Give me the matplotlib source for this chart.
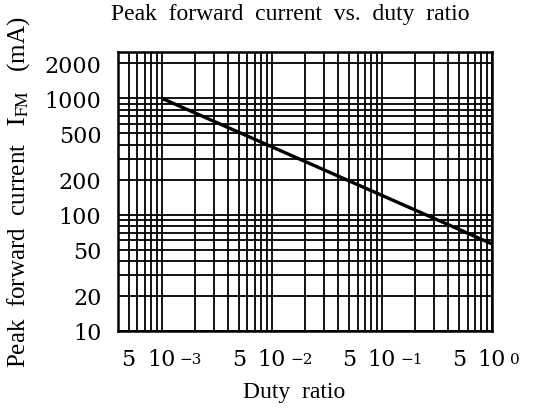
import numpy as np
import matplotlib
matplotlib.use("Agg")
import matplotlib.pyplot as plt
from matplotlib.ticker import NullFormatter, LogLocator

# curve (straight line on log-log)
duty = [1e-3, 1.0]
ifm = [1000, 56]

xtick_pos = [5e-4, 1e-3, 5e-3, 1e-2, 5e-2, 1e-1, 5e-1, 1.0]
xtick_lab = ["5", "10", "5", "10", "5", "10", "5", "10"]
xexp_pos = [1e-3, 1e-2, 1e-1, 1.0]
xexp_lab = ["\u22123", "\u22122", "\u22121", "0"]
ytick_pos = [10, 20, 50, 100, 200, 500, 1000, 2000]
ytick_lab = ["10", "20", "50", "100", "200", "500", "1000", "2000"]

plt.rcParams['mathtext.fontset'] = 'stix'
serif = "Liberation Serif"
tickfont = "DejaVu Serif"

fig = plt.figure(figsize=(5.41, 4.10), dpi=100)
ax = fig.add_axes([118/541, 1 - 332/410, 374/541, 279/410])

ax.plot(duty, ifm, color='black', linewidth=2.4, solid_capstyle='butt')

ax.set_xscale('log')
ax.set_yscale('log')
ax.set_xlim(4e-4, 1.0)
ax.set_ylim(10, 2500)

ax.xaxis.set_minor_locator(LogLocator(base=10, subs=np.arange(2, 10)))
ax.yaxis.set_minor_locator(LogLocator(base=10, subs=np.arange(2, 10)))
ax.xaxis.set_minor_formatter(NullFormatter())
ax.yaxis.set_minor_formatter(NullFormatter())

ax.set_xticks(xtick_pos)
ax.set_xticklabels(xtick_lab, fontfamily=tickfont, fontsize=16)
ax.set_yticks(ytick_pos)
ax.set_yticklabels(ytick_lab, fontfamily=tickfont, fontsize=16)
ax.tick_params(which='both', length=0)
ax.tick_params(axis='y', pad=12)
ax.tick_params(axis='x', pad=12)

for xp, lab in zip(xexp_pos, xexp_lab):
    ax.annotate(lab, xy=(xp, 0), xycoords=('data', 'axes fraction'),
                xytext=(13, -23), textcoords='offset points',
                ha='left', va='baseline', fontsize=11, fontfamily=tickfont)

ax.grid(True, which='both', color='black', linewidth=1.3)
for s in ax.spines.values():
    s.set_linewidth(1.8)

ax.set_title('Peak  forward  current  vs.  duty  ratio', fontfamily=serif,
             fontsize=17, x=0.46, pad=24)
ax.set_xlabel('Duty  ratio', fontfamily=serif, fontsize=17, labelpad=8, x=0.47)
ax.set_ylabel(r'Peak  forward  current   $\mathrm{I_{FM}}$   (mA)',
              fontfamily=serif, fontsize=18, labelpad=9)

fig.savefig('out.png', dpi=100, facecolor='white')
